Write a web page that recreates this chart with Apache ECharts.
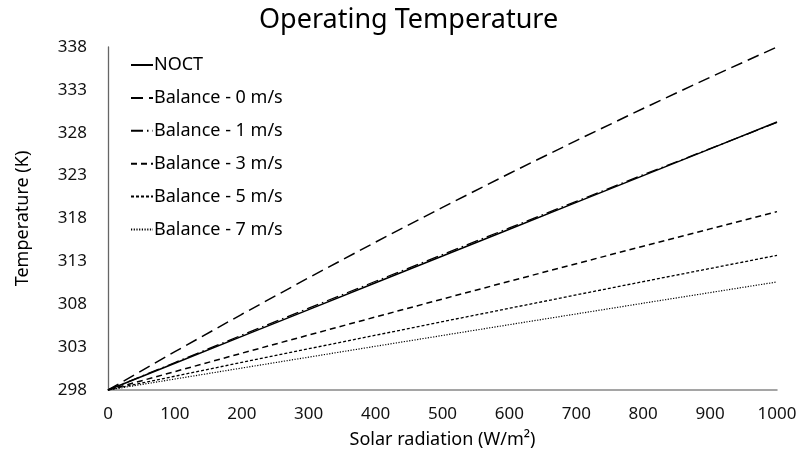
<!DOCTYPE html>
<html>
<head>
<meta charset="utf-8">
<script src="https://cdn.jsdelivr.net/npm/echarts@6/dist/echarts.min.js"></script>
<style>html,body{margin:0;padding:0;background:#fff}#c{width:800px;height:457px}</style>
</head>
<body>
<div id="c"></div>
<script>
const radiation = [0, 100, 200, 300, 400, 500, 600, 700, 800, 900, 1000];
const noct    = [298, 301.125, 304.25, 307.375, 310.5, 313.625, 316.75, 319.875, 323, 326.125, 329.25];
const bal0    = [298, 302.47, 306.83, 311.09, 315.25, 319.3, 323.25, 327.09, 330.83, 334.47, 338];
const bal1    = [298, 301.2, 304.4, 307.55, 310.68, 313.8, 316.9, 320.0, 323.1, 326.15, 329.2];
const bal3    = [298, 300.15, 302.29, 304.41, 306.52, 308.61, 310.68, 312.73, 314.77, 316.79, 318.8];
const bal5    = [298, 299.61, 301.22, 302.81, 304.39, 305.97, 307.53, 309.09, 310.64, 312.17, 313.7];
const bal7    = [298, 299.28, 300.56, 301.83, 303.10, 304.36, 305.62, 306.87, 308.12, 309.36, 310.6];
const seriesNames = ['NOCT', 'Balance - 0 m/s', 'Balance - 1 m/s', 'Balance - 3 m/s', 'Balance - 5 m/s', 'Balance - 7 m/s'];
const yTicks = [298, 303, 308, 313, 318, 323, 328, 333, 338];

const allData = [noct, bal0, bal1, bal3, bal5, bal7];
const styles = [
  {type: 'solid', width: 1.5},
  {type: [12, 6], width: 1.5},
  {type: [12, 4, 1.5, 4], width: 1.3},
  {type: [6, 4], width: 1.5},
  {type: [3, 2], width: 1.3},
  {type: [1.2, 1.5], width: 1.2}
];
const font = "'Noto Sans', sans-serif";
const chart = echarts.init(document.getElementById('c'), null, {renderer: 'canvas'});
chart.setOption({
  animation: false,
  backgroundColor: '#fff',
  title: {
    text: 'Operating Temperature',
    left: 254, top: 2,
    textStyle: {fontFamily: font, fontSize: 27, fontWeight: 'normal', color: '#000'}
  },
  legend: {
    orient: 'vertical', left: 125, top: 51,
    itemWidth: 22, itemHeight: 12, itemGap: 14.9,
    itemStyle: {opacity: 0},
    textStyle: {fontFamily: font, fontSize: 18, color: '#000', padding: [0, 0, 0, -4]},
    data: seriesNames
  },
  grid: {left: 108, right: 23, top: 47, bottom: 67, containLabel: false},
  xAxis: {
    type: 'value', min: 0, max: 1000, interval: 100,
    name: 'Solar radiation (W/m²)', nameLocation: 'middle', nameGap: 41,
    nameTextStyle: {fontFamily: font, fontSize: 18, color: '#000'},
    axisLine: {show: true, lineStyle: {color: '#888', width: 1.5}},
    axisTick: {show: false}, splitLine: {show: false},
    axisLabel: {fontFamily: font, fontSize: 17, color: '#111', margin: 16,
      formatter: v => String(v)}
  },
  yAxis: {
    type: 'value', min: 298, max: 338, interval: 5,
    name: 'Temperature (K)', nameLocation: 'middle', nameGap: 76, nameRotate: 90,
    nameTextStyle: {fontFamily: font, fontSize: 18, color: '#000'},
    axisLine: {show: true, lineStyle: {color: '#666', width: 1.3}},
    axisTick: {show: false}, splitLine: {show: false},
    axisLabel: {fontFamily: font, fontSize: 17, color: '#111', margin: 21,
      formatter: v => yTicks.includes(v) ? String(v) : ''}
  },
  series: allData.map((d, i) => ({
    name: seriesNames[i],
    type: 'line',
    data: radiation.map((x, j) => [x, d[j]]),
    symbol: 'none',
    smooth: false,
    lineStyle: Object.assign({color: '#000'}, styles[i]),
    itemStyle: {color: '#000'},
    z: 10 - i
  }))
});
</script>
</body>
</html>
